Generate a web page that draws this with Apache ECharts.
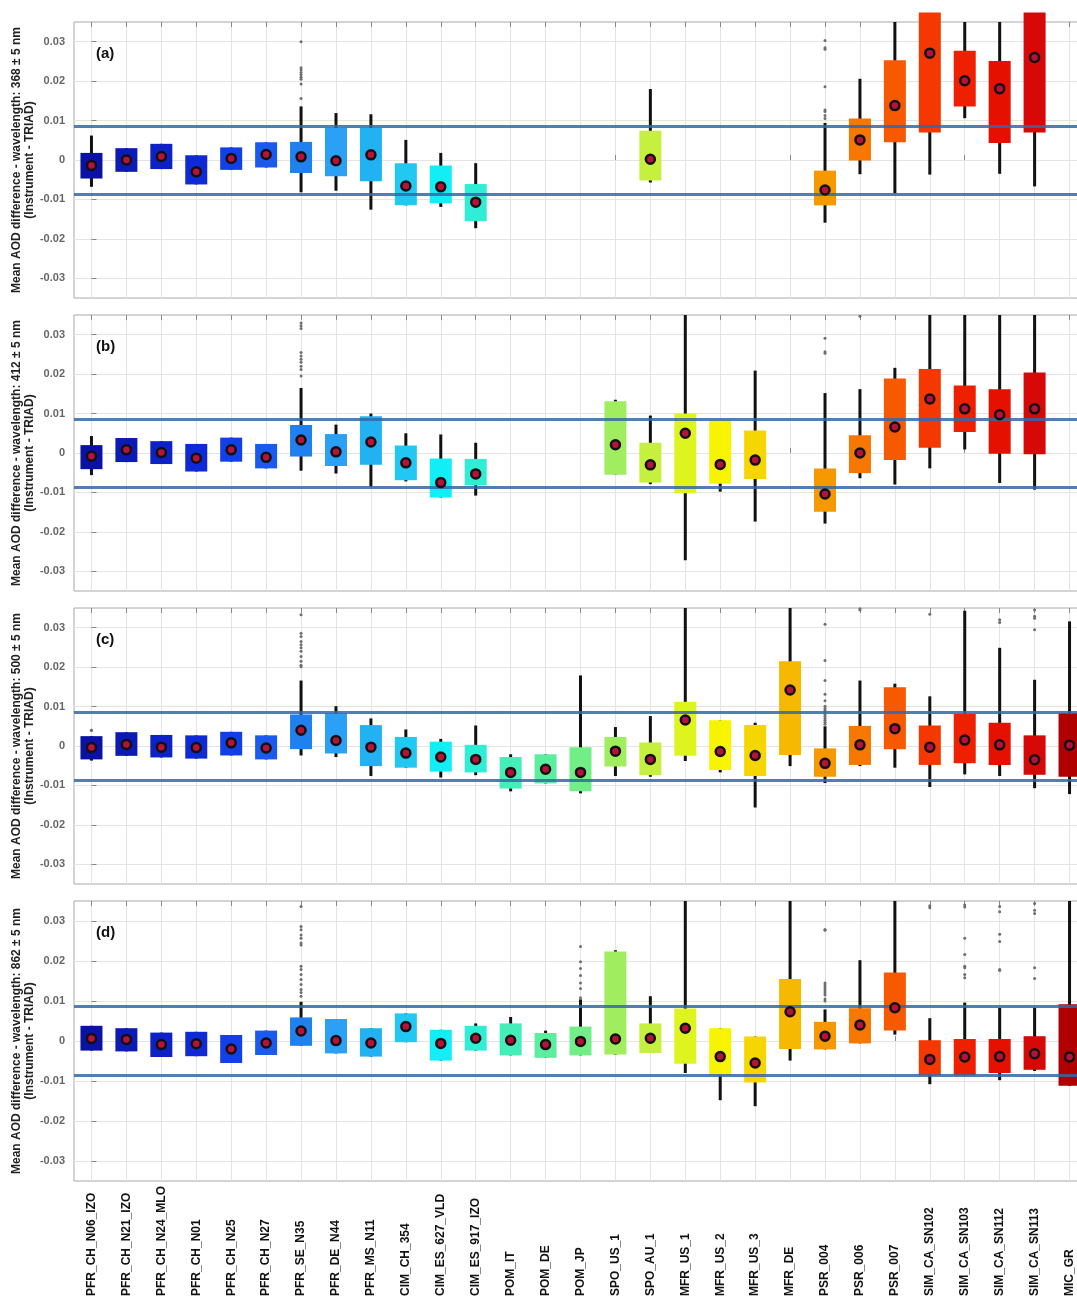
<!DOCTYPE html>
<html>
<head>
<meta charset="utf-8">
<script src="https://cdn.jsdelivr.net/npm/echarts@6/dist/echarts.min.js"></script>
<style>
html, body { margin: 0; padding: 0; background: #fff; }
#main { width: 1077px; height: 1299px; }
</style>
</head>
<body>
<div id="main"></div>
<script>
// instruments (x categories)
var categories = ['PFR_CH_N06_IZO', 'PFR_CH_N21_IZO', 'PFR_CH_N24_MLO', 'PFR_CH_N01', 'PFR_CH_N25',
    'PFR_CH_N27', 'PFR_SE_N35', 'PFR_DE_N44', 'PFR_MS_N11', 'CIM_CH_354', 'CIM_ES_627_VLD',
    'CIM_ES_917_IZO', 'POM_IT', 'POM_DE', 'POM_JP', 'SPO_US_1', 'SPO_AU_1', 'MFR_US_1', 'MFR_US_2',
    'MFR_US_3', 'MFR_DE', 'PSR_004', 'PSR_006', 'PSR_007', 'SIM_CA_SN102', 'SIM_CA_SN103',
    'SIM_CA_SN112', 'SIM_CA_SN113', 'MIC_GR'];
var yTicks = [-0.03, -0.02, -0.01, 0, 0.01, 0.02, 0.03];
var limitLines = [0.0086, -0.0086];
var wavelengths = [368, 412, 500, 862];
var panelLetters = ['(a)', '(b)', '(c)', '(d)'];

// one entry per instrument: [whisker low, q1, mean, q3, whisker high], null = no data
var boxA = [
    [-0.0068, -0.0047, -0.0014, 0.0018, 0.0062], [-0.0030, -0.0030, 0.0000, 0.0030, 0.0030],
    [-0.0023, -0.0023, 0.0009, 0.0041, 0.0041], [-0.0062, -0.0062, -0.0030, 0.0012, 0.0012],
    [-0.0025, -0.0025, 0.0004, 0.0032, 0.0032], [-0.0019, -0.0019, 0.0014, 0.0045, 0.0045],
    [-0.0082, -0.0033, 0.0008, 0.0046, 0.0136], [-0.0078, -0.0041, -0.0002, 0.0081, 0.0119],
    [-0.0126, -0.0054, 0.0013, 0.0081, 0.0116], [-0.0115, -0.0115, -0.0066, -0.0008, 0.0051],
    [-0.0119, -0.0110, -0.0068, -0.0014, 0.0018], [-0.0173, -0.0155, -0.0107, -0.0061, -0.0008],
    null, null, null, null,
    [-0.0057, -0.0052, 0.0002, 0.0074, 0.0180],
    null, null, null, null,
    [-0.0159, -0.0115, -0.0076, -0.0027, 0.0094], [-0.0036, -0.0001, 0.0051, 0.0105, 0.0206],
    [-0.0085, 0.0045, 0.0138, 0.0253, 0.035], [-0.0037, 0.0070, 0.0271, 0.0374, 0.035],
    [0.0106, 0.0136, 0.0201, 0.0277, 0.035], [-0.0035, 0.0043, 0.0181, 0.0251, 0.035],
    [-0.0067, 0.0070, 0.0260, 0.0374, 0.035],
    null
];
var boxB = [
    [-0.0056, -0.0041, -0.0008, 0.0020, 0.0043], [-0.0023, -0.0023, 0.0008, 0.0038, 0.0038],
    [-0.0028, -0.0028, 0.0001, 0.0030, 0.0030], [-0.0047, -0.0047, -0.0013, 0.0023, 0.0023],
    [-0.0022, -0.0022, 0.0008, 0.0039, 0.0039], [-0.0039, -0.0039, -0.0011, 0.0023, 0.0023],
    [-0.0045, -0.0009, 0.0033, 0.0071, 0.0165], [-0.0052, -0.0033, 0.0003, 0.0048, 0.0072],
    [-0.0086, -0.0030, 0.0028, 0.0093, 0.0100], [-0.0072, -0.0069, -0.0025, 0.0019, 0.0050],
    [-0.0113, -0.0113, -0.0075, -0.0014, 0.0047], [-0.0108, -0.0082, -0.0053, -0.0015, 0.0026],
    null, null, null,
    [-0.0055, -0.0055, 0.0021, 0.0131, 0.0135], [-0.0079, -0.0075, -0.0030, 0.0026, 0.0095],
    [-0.0272, -0.0102, 0.0050, 0.0100, 0.035], [-0.0098, -0.0078, -0.0029, 0.0084, 0.0084],
    [-0.0174, -0.0066, -0.0018, 0.0057, 0.0209],
    null,
    [-0.0179, -0.0149, -0.0104, -0.0039, 0.0152], [-0.0064, -0.0051, 0.0000, 0.0045, 0.0162],
    [-0.0080, -0.0018, 0.0066, 0.0189, 0.0216], [-0.0039, 0.0013, 0.0137, 0.0213, 0.035],
    [0.0009, 0.0053, 0.0112, 0.0171, 0.035], [-0.0076, -0.0002, 0.0097, 0.0162, 0.035],
    [-0.0093, -0.0003, 0.0112, 0.0204, 0.035],
    null
];
var boxC = [
    [-0.0037, -0.0034, -0.0004, 0.0025, 0.0025], [-0.0025, -0.0025, 0.0004, 0.0035, 0.0035],
    [-0.0029, -0.0029, -0.0003, 0.0028, 0.0028], [-0.0032, -0.0032, -0.0004, 0.0027, 0.0027],
    [-0.0024, -0.0024, 0.0008, 0.0036, 0.0036], [-0.0034, -0.0034, -0.0005, 0.0027, 0.0027],
    [-0.0024, -0.0008, 0.0040, 0.0080, 0.0166], [-0.0028, -0.0019, 0.0014, 0.0083, 0.0101],
    [-0.0076, -0.0051, -0.0003, 0.0053, 0.0070], [-0.0055, -0.0055, -0.0018, 0.0023, 0.0042],
    [-0.0080, -0.0065, -0.0028, 0.0011, 0.0018], [-0.0074, -0.0067, -0.0034, 0.0003, 0.0052],
    [-0.0115, -0.0108, -0.0067, -0.0028, -0.0021], [-0.0095, -0.0095, -0.0059, -0.0021, -0.0021],
    [-0.0120, -0.0115, -0.0067, -0.0003, 0.0179], [-0.0076, -0.0052, -0.0013, 0.0023, 0.0048],
    [-0.0078, -0.0074, -0.0034, 0.0009, 0.0076], [-0.0038, -0.0025, 0.0066, 0.0112, 0.035],
    [-0.0067, -0.0061, -0.0014, 0.0065, 0.0065], [-0.0156, -0.0076, -0.0024, 0.0053, 0.0059],
    [-0.0051, -0.0023, 0.0142, 0.0215, 0.035], [-0.0094, -0.0078, -0.0044, -0.0006, 0.0050],
    [-0.0051, -0.0048, 0.0003, 0.0051, 0.0166], [-0.0055, -0.0008, 0.0044, 0.0149, 0.0158],
    [-0.0104, -0.0048, -0.0003, 0.0052, 0.0126], [-0.0072, -0.0044, 0.0015, 0.0082, 0.0343],
    [-0.0076, -0.0048, 0.0003, 0.0059, 0.0249], [-0.0107, -0.0073, -0.0035, 0.0027, 0.0168],
    [-0.0122, -0.0078, 0.0002, 0.0084, 0.0316]
];
var boxD = [
    [-0.0024, -0.0024, 0.0006, 0.0038, 0.0038], [-0.0026, -0.0026, 0.0004, 0.0032, 0.0032],
    [-0.0040, -0.0040, -0.0009, 0.0021, 0.0021], [-0.0038, -0.0038, -0.0007, 0.0023, 0.0023],
    [-0.0055, -0.0055, -0.0020, 0.0015, 0.0015], [-0.0035, -0.0035, -0.0005, 0.0026, 0.0026],
    [-0.0012, -0.0012, 0.0025, 0.0059, 0.0098], [-0.0031, -0.0031, 0.0001, 0.0055, 0.0055],
    [-0.0039, -0.0039, -0.0005, 0.0032, 0.0032], [-0.0003, -0.0003, 0.0036, 0.0069, 0.0069],
    [-0.0049, -0.0049, -0.0006, 0.0028, 0.0028], [-0.0024, -0.0024, 0.0007, 0.0038, 0.0044],
    [-0.0036, -0.0036, 0.0002, 0.0044, 0.0060], [-0.0042, -0.0042, -0.0009, 0.0020, 0.0026],
    [-0.0036, -0.0036, -0.0001, 0.0036, 0.0104], [-0.0034, -0.0034, 0.0005, 0.0224, 0.0227],
    [-0.0030, -0.0030, 0.0007, 0.0044, 0.0112], [-0.0080, -0.0057, 0.0032, 0.0081, 0.035],
    [-0.0148, -0.0086, -0.0039, 0.0032, 0.0032], [-0.0163, -0.0104, -0.0055, 0.0011, 0.0011],
    [-0.0049, -0.0020, 0.0073, 0.0155, 0.035], [-0.0021, -0.0021, 0.0012, 0.0048, 0.0079],
    [-0.0006, -0.0006, 0.0040, 0.0082, 0.0202], [0.0016, 0.0026, 0.0083, 0.0171, 0.035],
    [-0.0108, -0.0086, -0.0046, 0.0002, 0.0057], [-0.0086, -0.0086, -0.0040, 0.0005, 0.0096],
    [-0.0098, -0.0080, -0.0039, 0.0005, 0.0083], [-0.0075, -0.0072, -0.0032, 0.0012, 0.0083],
    [-0.0112, -0.0112, -0.0040, 0.0092, 0.035]
];

// outliers: [instrument index, value]
var outA = [[6, 0.0300], [6, 0.0234], [6, 0.0228], [6, 0.0222], [6, 0.0216], [6, 0.0210], [6, 0.0205],
    [6, 0.0193], [6, 0.0156], [21, 0.0303], [21, 0.0285], [21, 0.0281], [21, 0.0186], [21, 0.0127],
    [21, 0.0123], [21, 0.0113], [21, 0.0105]];
var outB = [[6, 0.0330], [6, 0.0323], [6, 0.0316], [6, 0.0255], [6, 0.0246], [6, 0.0238], [6, 0.0230],
    [6, 0.0220], [6, 0.0212], [6, 0.0195], [21, 0.0291], [21, 0.0257], [21, 0.0253], [22, 0.0347]];
var outC = [[0, 0.0040], [0, 0.0040], [6, 0.0333], [6, 0.0286], [6, 0.0278], [6, 0.0265], [6, 0.0257],
    [6, 0.0249], [6, 0.0240], [6, 0.0227], [6, 0.0215], [6, 0.0205], [6, 0.0201], [21, 0.0309],
    [21, 0.0217], [21, 0.0166], [21, 0.0131], [21, 0.0115], [21, 0.0101], [21, 0.0095], [21, 0.0090],
    [21, 0.0085], [21, 0.0080], [21, 0.0075], [21, 0.0070], [21, 0.0065], [21, 0.0060], [21, 0.0055],
    [22, 0.0345], [22, 0.0348], [24, 0.0334], [26, 0.0320], [26, 0.0313], [27, 0.0345], [27, 0.0329],
    [27, 0.0324], [27, 0.0295]];
var outD = [[6, 0.0336], [6, 0.0286], [6, 0.0278], [6, 0.0265], [6, 0.0257], [6, 0.0245], [6, 0.0240],
    [6, 0.0187], [6, 0.0179], [6, 0.0166], [6, 0.0154], [6, 0.0141], [6, 0.0129], [6, 0.0121], [6, 0.0112],
    [14, 0.0236], [14, 0.0198], [14, 0.0181], [14, 0.0164], [14, 0.0145], [14, 0.0131], [14, 0.0108],
    [21, 0.0279], [21, 0.0277], [21, 0.0145], [21, 0.0140], [21, 0.0135], [21, 0.0130], [21, 0.0125],
    [21, 0.0120], [21, 0.0115], [21, 0.0105], [21, 0.0100], [24, 0.0338], [24, 0.0333], [25, 0.0340],
    [25, 0.0335], [25, 0.0257], [25, 0.0216], [25, 0.0187], [25, 0.0183], [25, 0.0166], [25, 0.0158],
    [26, 0.0336], [26, 0.0323], [26, 0.0267], [26, 0.0249], [26, 0.0179], [26, 0.0176], [27, 0.0344],
    [27, 0.0327], [27, 0.0319], [27, 0.0183], [27, 0.0156]];

// box fill per instrument (jet-like)
var boxColors = ['#0a12a6', '#0c1ab6', '#0c22c6', '#0e2ad6', '#1040e6', '#1a5aee', '#2080ee', '#2aa0f6',
    '#22b2f2', '#22c8f2', '#12eef6', '#30eed6', '#44eeb8', '#5aee9e', '#72ee86', '#a0ee60', '#c6f03e',
    '#def41e', '#f6f400', '#f6d600', '#f6b800', '#f69800', '#f67800', '#f65a00', '#f43800', '#ee2000',
    '#e61000', '#d60808', '#b00000'];

var panelBoxes = [boxA, boxB, boxC, boxD];
var panelOuts = [outA, outB, outC, outD];
var tops = [22, 315, 608, 901];
var heights = [276, 276, 276, 280];
var catIdx = categories.map(function (c, i) { return i; });

function renderBox(params, api) {
    var i = api.value(0);
    var lo = api.coord([i, api.value(1)]);
    var q1 = api.coord([i, api.value(2)]);
    var q3 = api.coord([i, api.value(3)]);
    var hi = api.coord([i, api.value(4)]);
    var w = api.size([1, 0])[0] * 0.63;
    return {
        type: 'group',
        children: [
            {type: 'line', shape: {x1: lo[0], y1: hi[1], x2: lo[0], y2: lo[1]},
                style: {stroke: '#111', lineWidth: 3}},
            {type: 'rect', shape: {x: q1[0] - w / 2, y: q3[1], width: w, height: q1[1] - q3[1]},
                style: {fill: boxColors[i]}}
        ]
    };
}

var myChart = echarts.init(document.getElementById('main'));

var option = {
    animation: false,
    backgroundColor: '#fff',
    textStyle: {fontFamily: 'Liberation Sans, Arial, sans-serif'},
    title: [],
    grid: [],
    xAxis: [],
    yAxis: [],
    series: []
};

for (var k = 0; k < 4; k++) {
    option.grid.push({
        left: 74, width: 1013, top: tops[k], height: heights[k], outerBoundsMode: 'none',
        show: true, borderColor: '#a8a8a8', borderWidth: 1
    });
    option.title.push({
        text: panelLetters[k], left: 96, top: tops[k] + 24, padding: 0,
        textStyle: {fontSize: 15, fontWeight: 'bold', color: '#111'}
    });
    option.xAxis.push({
        type: 'category', gridIndex: k, data: categories, position: 'bottom',
        axisLine: {show: false},
        axisTick: {show: true, inside: true, alignWithLabel: true, length: 5, lineStyle: {color: '#888'}},
        axisLabel: k === 3 ? {
            show: true, interval: 0, rotate: 90, align: 'left', verticalAlign: 'middle', margin: 115,
            fontSize: 12, fontWeight: 'bold', color: '#111'
        } : {show: false},
        splitLine: {show: false}
    });
    // helper axis on top: tick marks and vertical grid lines at the instrument positions
    option.xAxis.push({
        type: 'value', gridIndex: k, position: 'top', min: -0.5, max: categories.length - 0.5,
        axisLine: {show: false},
        axisTick: {show: true, inside: true, length: 5, customValues: catIdx, lineStyle: {color: '#888'}},
        axisLabel: {show: false, customValues: catIdx},
        splitLine: {show: true, lineStyle: {color: '#e4e4e4'}}
    });
    option.yAxis.push({
        type: 'value', gridIndex: k, min: -0.035, max: 0.035,
        name: 'Mean AOD difference - wavelength: ' + wavelengths[k] + ' \u00b1 5 nm\n(Instrument - TRIAD)',
        nameLocation: 'middle', nameGap: 38, nameRotate: 90, nameMoveOverlap: false,
        nameTextStyle: {fontSize: 12, fontWeight: 'bold', color: '#222', lineHeight: 13},
        axisLine: {show: false},
        axisTick: {show: true, inside: true, length: 5, customValues: yTicks, lineStyle: {color: '#888'}},
        axisLabel: {
            customValues: yTicks, margin: 9, fontSize: 11, fontWeight: 'bold', color: '#666',
            formatter: function (v) { return v === 0 ? '0' : v.toFixed(2); }
        },
        splitLine: {show: true, lineStyle: {color: '#e4e4e4'}}
    });

    var boxes = panelBoxes[k];
    var boxData = [], meanData = [];
    boxes.forEach(function (b, i) {
        if (!b) return;
        boxData.push([i, b[0], b[1], b[3], b[4]]);
        meanData.push([i, b[2]]);
    });

    option.series.push({
        type: 'custom', xAxisIndex: 2 * k, yAxisIndex: k, z: 2,
        renderItem: renderBox, data: boxData, encode: {x: 0, y: [1, 2, 3, 4]}
    });
    option.series.push({
        type: 'line', xAxisIndex: 2 * k, yAxisIndex: k, z: 3, data: [],
        markLine: {
            silent: true, symbol: 'none', precision: 4, label: {show: false},
            lineStyle: {color: '#3566a8', width: 3, type: 'solid', opacity: 0.85},
            data: limitLines.map(function (v) { return {yAxis: v}; })
        }
    });
    option.series.push({
        type: 'scatter', xAxisIndex: 2 * k, yAxisIndex: k, z: 4,
        symbolSize: 3, itemStyle: {color: '#6e6e6e', opacity: 1},
        data: panelOuts[k]
    });
    option.series.push({
        type: 'scatter', xAxisIndex: 2 * k, yAxisIndex: k, z: 5,
        symbolSize: 9, itemStyle: {color: '#b8123a', borderColor: '#111', borderWidth: 2.5, opacity: 1},
        data: meanData
    });
}

myChart.setOption(option);
</script>
</body>
</html>
